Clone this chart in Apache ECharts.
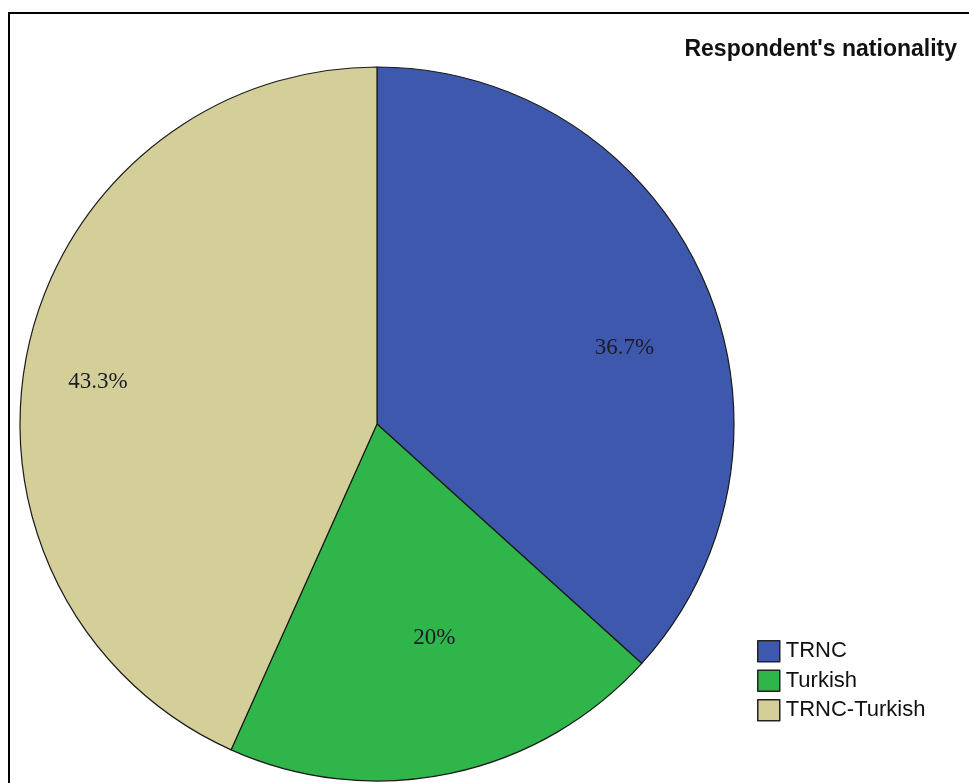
<!DOCTYPE html>
<html>
<head>
<meta charset="utf-8">
<title>Respondent's nationality</title>
<script src="https://cdn.jsdelivr.net/npm/echarts@6/dist/echarts.min.js"></script>
<style>
  html, body { margin: 0; padding: 0; background: #fff; }
  #chart { width: 969px; height: 783px; }
</style>
</head>
<body>
<div id="chart"></div>
<script>
// Nationality breakdown of respondents (percent of sample)
const categories = ['TRNC', 'Turkish', 'TRNC-Turkish'];
const percentages = [36.7, 20, 43.3];

// Slice fills, in category order
const sliceColors = ['#3e58ad', '#2fb54a', '#d4cf98'];

// Pie geometry (pixels)
const pieCenter = [377, 424];
const pieRadius = 357;

// Where each percentage label sits: fraction of radius and clock angle in degrees
const labelPlacement = [
  { r: 0.725, angle: 73 },
  { r: 0.62, angle: 165 },
  { r: 0.79, angle: 278.5 }
];

const chart = echarts.init(document.getElementById('chart'), null, { renderer: 'canvas' });

const option = {
  backgroundColor: '#ffffff',
  animation: false,
  title: {
    text: "Respondent's nationality",
    right: 12,
    top: 38,
    padding: 0,
    textStyle: {
      fontFamily: '"Liberation Sans", Arial, sans-serif',
      fontWeight: 'bold',
      fontSize: 23,
      color: '#111'
    }
  },
  legend: {
    orient: 'vertical',
    left: 757,
    top: 640,
    padding: 0,
    itemWidth: 22,
    itemHeight: 21,
    itemGap: 7,
    icon: 'rect',
    selectedMode: false,
    data: categories,
    itemStyle: { borderColor: '#222', borderWidth: 1.5 },
    textStyle: {
      fontFamily: '"Liberation Sans", Arial, sans-serif',
      fontSize: 22,
      color: '#111',
      padding: [0, 0, 0, 1]
    }
  },
  graphic: [
    {
      type: 'rect',
      silent: true,
      shape: { x: 9, y: 13, width: 2000, height: 2000 },
      style: { fill: 'none', stroke: '#000', lineWidth: 2 }
    }
  ],
  series: [
    {
      type: 'pie',
      center: pieCenter,
      radius: pieRadius,
      startAngle: 90,
      clockwise: true,
      silent: true,
      avoidLabelOverlap: false,
      itemStyle: { borderColor: '#1a1a1a', borderWidth: 1.2 },
      label: {
        show: true,
        position: 'inside',
        formatter: p => p.value + '%',
        fontFamily: '"Liberation Serif", "Times New Roman", serif',
        fontSize: 23,
        color: '#1a1a2a'
      },
      labelLine: { show: false },
      labelLayout: function (p) {
        const pl = labelPlacement[p.dataIndex];
        const a = pl.angle * Math.PI / 180;
        return {
          x: pieCenter[0] + pl.r * pieRadius * Math.sin(a),
          y: pieCenter[1] - pl.r * pieRadius * Math.cos(a),
          align: 'center',
          verticalAlign: 'middle'
        };
      },
      data: categories.map((name, i) => ({
        name: name,
        value: percentages[i],
        itemStyle: { color: sliceColors[i] }
      }))
    }
  ]
};

chart.setOption(option);
</script>
</body>
</html>
